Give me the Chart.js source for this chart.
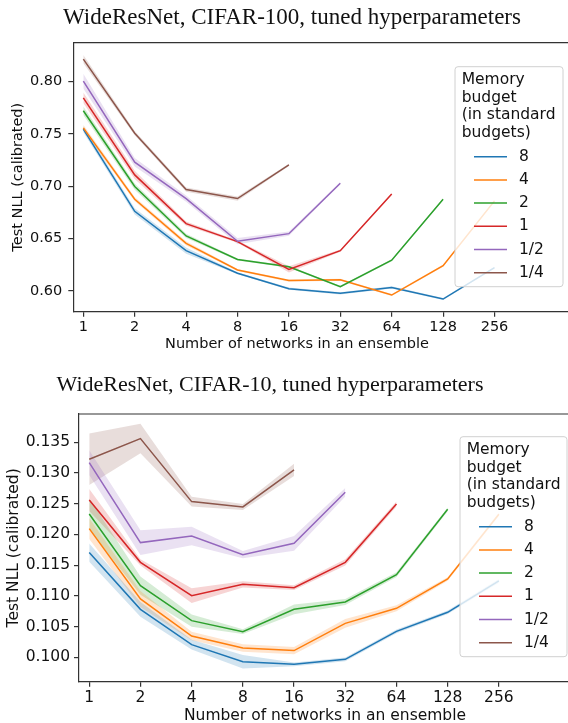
<!DOCTYPE html>
<html>
<head>
<meta charset="utf-8">
<script src="https://cdn.jsdelivr.net/npm/chart.js@4"></script>
<style>
  html, body { margin: 0; padding: 0; background: #fff; }
  .wrap { position: absolute; left: 0; width: 568px; }
  canvas { display: block; }
</style>
</head>
<body>
<div class="wrap" style="top:0"><canvas id="c100" width="568" height="365"></canvas></div>
<div class="wrap" style="top:365px"><canvas id="c10" width="568" height="358"></canvas></div>
<script>
// x positions are log2(networks): 0..8
const xLabels = ['1', '2', '4', '8', '16', '32', '64', '128', '256']
const budgets = ['8', '4', '2', '1', '1/2', '1/4']
const colors = ['#1f77b4', '#ff7f0e', '#2ca02c', '#d62728', '#9467bd', '#8c564b']

// CIFAR-100 mean NLL
const c100_b8 = [0.7545, 0.676, 0.6385, 0.6169, 0.6022, 0.5977, 0.6034, 0.5923, 0.6222]
const c100_b4 = [0.7557, 0.6876, 0.6455, 0.62, 0.6099, 0.6107, 0.5961, 0.6241, 0.686]
const c100_b2 = [0.772, 0.6997, 0.6525, 0.63, 0.6231, 0.604, 0.6293, 0.6876]
const c100_b1 = [0.7844, 0.7108, 0.6643, 0.6471, 0.6206, 0.6385, 0.6926]
const c100_bh = [0.8003, 0.7229, 0.6882, 0.6475, 0.6547, 0.7029]
const c100_bq = [0.8213, 0.7506, 0.6968, 0.6882, 0.7204]
// CIFAR-100 spread (half band width)
const c100_s8 = [0.003, 0.003, 0.003, 0.001, 0.001, 0.001, 0.001, 0.001, 0.001]
const c100_s4 = [0.003, 0.002, 0.002, 0.001, 0.001, 0.001, 0.001, 0.001, 0.001]
const c100_s2 = [0.004, 0.003, 0.002, 0.001, 0.001, 0.001, 0.001, 0.001]
const c100_s1 = [0.005, 0.004, 0.002, 0.001, 0.003, 0.001, 0.001]
const c100_sh = [0.007, 0.004, 0.003, 0.003, 0.002, 0.001]
const c100_sq = [0.004, 0.002, 0.002, 0.002, 0.001]
const c100_yTicks = [0.60, 0.65, 0.70, 0.75, 0.80]

// CIFAR-10 mean NLL
const c10_b8 = [0.11704, 0.10781, 0.10206, 0.09929, 0.09886, 0.09967, 0.10423, 0.10733, 0.11243]
const c10_b4 = [0.12095, 0.1095, 0.10347, 0.10152, 0.10109, 0.10553, 0.10798, 0.11275, 0.12328]
const c10_b2 = [0.12333, 0.11167, 0.10597, 0.10418, 0.10781, 0.10901, 0.11346, 0.12409]
const c10_b1 = [0.12561, 0.11546, 0.11004, 0.11188, 0.11134, 0.11546, 0.12496]
const c10_bh = [0.13169, 0.11867, 0.11975, 0.11671, 0.11856, 0.12686]
const c10_bq = [0.13223, 0.1356, 0.12534, 0.12447, 0.1305]
// CIFAR-10 spread
const c10_s8 = [0.0015, 0.0012, 0.0008, 0.0011, 0.0003, 0.0003, 0.0003, 0.0003, 0.0003]
const c10_s4 = [0.0017, 0.0013, 0.0007, 0.0006, 0.0006, 0.0007, 0.0005, 0.0003, 0.0003]
const c10_s2 = [0.0025, 0.0015, 0.001, 0.0004, 0.0008, 0.0005, 0.0004, 0.0003]
const c10_s1 = [0.0018, 0.0005, 0.0012, 0.0005, 0.0004, 0.0005, 0.0004]
const c10_sh = [0.002, 0.002, 0.0015, 0.0006, 0.0012, 0.0007]
const c10_sq = [0.0042, 0.0024, 0.0008, 0.0005, 0.001]
const c10_yTicks = [0.100, 0.105, 0.110, 0.115, 0.120, 0.125, 0.130, 0.135]

function hexA(hex, a) {
  const n = parseInt(hex.slice(1), 16)
  return `rgba(${n >> 16},${(n >> 8) & 255},${n & 255},${a})`
}

function buildDatasets(means, spreads) {
  const ds = []
  means.forEach((m, i) => {
    const s = spreads[i]
    ds.push({
      data: m.map((v, k) => ({ x: k, y: v + s[k] })),
      borderWidth: 0, pointRadius: 0, fill: false, order: 20 + i,
    })
    ds.push({
      data: m.map((v, k) => ({ x: k, y: v - s[k] })),
      borderWidth: 0, pointRadius: 0, fill: '-1',
      backgroundColor: hexA(colors[i], 0.2), order: 20 + i,
    })
  })
  means.forEach((m, i) => {
    ds.push({
      data: m.map((v, k) => ({ x: k, y: v })),
      borderColor: colors[i], borderWidth: 1.5, pointRadius: 0,
      fill: false, tension: 0, order: 10 - i,
    })
  })
  return ds
}

const figText = {
  id: 'figText',
  afterDraw(chart, args, o) {
    const ctx = chart.ctx
    const a = chart.chartArea
    ctx.save()
    ctx.strokeStyle = '#333'
    ctx.lineWidth = 1.2
    ctx.beginPath()
    ctx.moveTo(a.left, a.top)
    ctx.lineTo(a.right, a.top)
    ctx.stroke()

    ctx.fillStyle = '#111'
    ctx.textAlign = 'center'
    ctx.textBaseline = 'middle'
    ctx.font = `${o.titleSize}px "Liberation Serif", "Times New Roman", serif`
    ctx.fillText(o.title, o.titleX, o.titleY)
    ctx.font = `${o.axisSize}px "DejaVu Sans"`
    ctx.fillText(o.xTitle, o.xTitleX, o.xTitleY)

    // legend box
    const L = o.legend
    ctx.fillStyle = 'rgba(255,255,255,0.8)'
    ctx.strokeStyle = '#d0d0d0'
    ctx.lineWidth = 1
    ctx.beginPath()
    ctx.roundRect(L.x, L.y, L.w, L.h, 3)
    ctx.fill()
    ctx.stroke()
    ctx.fillStyle = '#111'
    ctx.textAlign = 'left'
    ctx.font = '15.5px "DejaVu Sans"'
    L.title.forEach((t, k) => ctx.fillText(t, L.x + 6.7, L.y + 13.3 + k * 17.7))
    budgets.forEach((b, k) => {
      const y = L.y + 90 + k * 23.2
      ctx.strokeStyle = colors[k]
      ctx.lineWidth = 1.5
      ctx.beginPath()
      ctx.moveTo(L.x + 19, y)
      ctx.lineTo(L.x + 52, y)
      ctx.stroke()
      ctx.fillText(b, L.x + 64, y)
    })
    ctx.restore()
  }
}

function makeChart(id, cfg) {
  return new Chart(document.getElementById(id), {
    type: 'line',
    data: { datasets: buildDatasets(cfg.means, cfg.spreads) },
    plugins: [figText],
    options: {
      responsive: false,
      animation: false,
      layout: { padding: { top: cfg.padTop, left: 0, right: 0, bottom: 0 } },
      plugins: {
        legend: { display: false },
        tooltip: { enabled: false },
        figText: {
          title: cfg.title, titleSize: cfg.titleSize, titleX: cfg.titleX, titleY: cfg.titleY,
          xTitle: 'Number of networks in an ensemble', axisSize: cfg.axisSize,
          xTitleX: cfg.xTitleX, xTitleY: cfg.xTitleY,
          legend: {
            x: cfg.legendX, y: cfg.legendY, w: cfg.legendW, h: 220,
            title: ['Memory', 'budget', '(in standard', 'budgets)'],
          },
        },
      },
      scales: {
        x: {
          type: 'linear',
          min: cfg.xMin,
          max: cfg.xMax,
          afterBuildTicks: (s) => { s.ticks = xLabels.map((_, k) => ({ value: k })) },
          afterFit: (s) => { s.height = cfg.xAxisH },
          ticks: {
            autoSkip: false, maxRotation: 0, padding: cfg.xTickPad, color: '#111',
            font: { family: 'DejaVu Sans', size: cfg.axisSize },
            callback: (v) => xLabels[v],
          },
          grid: { drawOnChartArea: false, tickLength: 5, color: '#333', lineWidth: 1.2 },
          border: { display: true, color: '#333', width: 1.2 },
        },
        y: {
          type: 'linear',
          min: cfg.yMin,
          max: cfg.yMax,
          afterBuildTicks: (s) => { s.ticks = cfg.yTicks.map((v) => ({ value: v })) },
          afterFit: (s) => { s.width = cfg.yAxisW },
          ticks: {
            padding: cfg.yTickPad, color: '#111',
            font: { family: 'DejaVu Sans', size: cfg.axisSize },
            callback: (v) => v.toFixed(cfg.dec),
          },
          title: {
            display: true, text: 'Test NLL (calibrated)', color: '#111',
            font: { family: 'DejaVu Sans', size: cfg.axisSize },
            padding: { top: cfg.yTitlePad, bottom: 0 },
          },
          grid: { drawOnChartArea: false, tickLength: 5, color: '#333', lineWidth: 1.2 },
          border: { display: true, color: '#333', width: 1.2 },
        },
      },
    },
  })
}

makeChart('c100', {
  means: [c100_b8, c100_b4, c100_b2, c100_b1, c100_bh, c100_bq],
  spreads: [c100_s8, c100_s4, c100_s2, c100_s1, c100_sh, c100_sq],
  yTicks: c100_yTicks, dec: 2, yMin: 0.5802, yMax: 0.837,
  xMin: -0.195, xMax: 9.43,
  padTop: 42.7, xAxisH: 53.3, yAxisW: 73.3, xTickPad: 2, yTickPad: 6,
  axisSize: 14.5, yTitlePad: 9.3,
  title: 'WideResNet, CIFAR-100, tuned hyperparameters', titleSize: 23, titleX: 292, titleY: 17.5,
  xTitleX: 297, xTitleY: 344.5,
  legendX: 455, legendY: 66.7, legendW: 108,
})

makeChart('c10', {
  means: [c10_b8, c10_b4, c10_b2, c10_b1, c10_bh, c10_bq],
  spreads: [c10_s8, c10_s4, c10_s2, c10_s1, c10_sh, c10_sq],
  yTicks: c10_yTicks, dec: 3, yMin: 0.09603, yMax: 0.1396,
  xMin: -0.2, xMax: 9.35,
  padTop: 49, xAxisH: 41.3, yAxisW: 79, xTickPad: 2, yTickPad: 4,
  axisSize: 15.5, yTitlePad: 4.7,
  title: 'WideResNet, CIFAR-10, tuned hyperparameters', titleSize: 22, titleX: 270, titleY: 20,
  xTitleX: 325, xTitleY: 351,
  legendX: 460, legendY: 71.7, legendW: 107,
})
</script>
</body>
</html>
